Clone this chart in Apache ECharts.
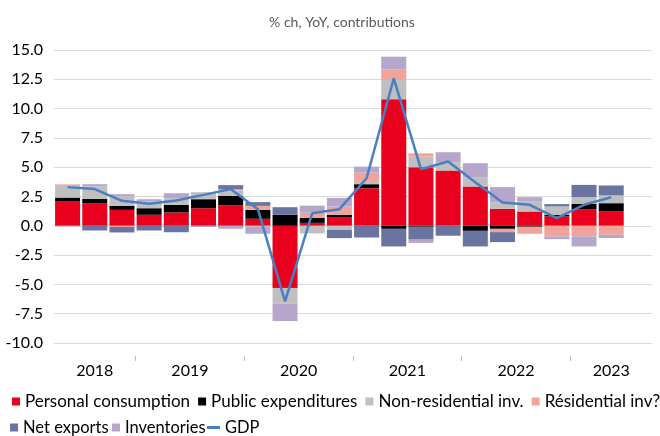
<!DOCTYPE html>
<html>
<head>
<meta charset="utf-8">
<script src="https://cdn.jsdelivr.net/npm/echarts@6/dist/echarts.min.js"></script>
<style>
  html, body { margin: 0; padding: 0; background: #fff; }
  #main { width: 660px; height: 436px; }
</style>
</head>
<body>
<div id="main"></div>
<script>
// quarters 2018Q2 .. 2023Q3 (last one empty)
var quarters = ['2018Q2', '2018Q3', '2018Q4',
  '2019Q1', '2019Q2', '2019Q3', '2019Q4',
  '2020Q1', '2020Q2', '2020Q3', '2020Q4',
  '2021Q1', '2021Q2', '2021Q3', '2021Q4',
  '2022Q1', '2022Q2', '2022Q3', '2022Q4',
  '2023Q1', '2023Q2', '2023Q3'];

var consumption = [2.07, 1.93, 1.36, 0.94, 1.14, 1.5, 1.76, 0.6, -5.3, 0.25, 0.71, 3.21, 10.8, 5.0, 4.72, 3.35, 1.45, 1.22, 0.8, 1.42, 1.25, null];
var publicExp = [0.34, 0.37, 0.34, 0.56, 0.65, 0.77, 0.8, 0.76, 0.94, 0.42, 0.23, 0.34, -0.26, -0.08, 0, -0.43, -0.26, -0.08, 0.14, 0.46, 0.68, null];
var nonResInv = [1.08, 1.05, 0.8, 0.57, 0.57, 0.6, 0.45, -0.1, -1.28, -0.65, -0.34, 0.28, 1.64, 0.9, 0.7, 0.77, 0.55, 0.85, 0.71, 0.56, 0.66, null];
var resInv = [0.05, 0, -0.1, 0, 0, 0, 0.1, 0.34, -0.05, 0.45, 0.7, 0.71, 0.91, 0.28, 0, 0, -0.28, -0.6, -0.91, -0.91, -0.77, null];
var netExports = [0, -0.4, -0.47, -0.4, -0.55, 0, 0.36, 0.32, 0.65, 0, -0.71, -1.0, -1.5, -1.1, -0.85, -1.33, -0.85, 0, 0.2, 1.05, 0.85, null];
var inventories = [-0.05, 0.2, 0.2, 0.2, 0.42, -0.1, -0.25, -0.58, -1.5, 0.6, 0.74, 0.51, 1.08, -0.28, 0.86, 1.22, 1.3, 0.37, -0.23, -0.85, -0.28, null];
var gdp = [3.3, 3.13, 2.13, 1.88, 2.16, 2.64, 3.13, 1.42, -6.45, 1.08, 1.42, 4.06, 12.58, 4.83, 5.48, 3.72, 1.99, 1.79, 0.65, 1.79, 2.44, null];

var yearLabels = ['2018', '2019', '2020', '2021', '2022', '2023'];
var yearCenters = [1.5, 5, 9, 13, 17, 20.5];
var yearBreaks = [3, 7, 11, 15, 19];

var fontName = 'Lato';

var chartDom = document.getElementById('main');
var myChart = echarts.init(chartDom);

function barSeries(name, data, color) {
  return {
    name: name,
    type: 'bar',
    stack: 'total',
    barCategoryGap: '8%',
    data: data,
    itemStyle: { color: color },
    emphasis: { disabled: true }
  };
}

function legendAt(names, left, top, w, h, size) {
  return {
    data: names,
    left: left, top: top, width: 1000, padding: 0,
    itemWidth: w, itemHeight: h, itemGap: 8,
    icon: 'rect', selectedMode: false,
    textStyle: { fontSize: size, color: '#000', fontFamily: fontName }
  };
}

var option = {
  animation: false,
  textStyle: { fontFamily: fontName },
  title: {
    text: '% ch, YoY, contributions',
    left: 337,
    top: 10,
    textAlign: 'center',
    textStyle: { fontSize: 14, fontWeight: 'normal', color: '#595959', fontFamily: fontName }
  },
  legend: [
    legendAt(['Personal consumption', 'Public expenditures', 'Non-residential inv.', 'Résidential inv?'], 12, 393, 8, 8, 17),
    legendAt(['Net exports'], 10, 419, 8, 8, 16.5),
    legendAt(['Inventories'], 112, 419, 8, 8, 16.5),
    legendAt(['GDP'], 207, 419, 13, 3, 16.5)
  ],
  grid: { left: 54, right: 8, top: 50, bottom: 93, containLabel: false, outerBoundsMode: 'none' },
  xAxis: [
    {
      type: 'category',
      data: quarters,
      axisLine: { show: false },
      axisTick: { show: false },
      axisLabel: { show: false },
      splitLine: { show: false }
    },
    {
      type: 'value',
      min: 0, max: 22,
      position: 'bottom',
      offset: 13,
      axisLine: { show: false },
      splitLine: { show: false },
      axisTick: { show: true, customValues: yearBreaks, length: 5, lineStyle: { color: '#bfbfbf' } },
      axisLabel: {
        customValues: yearCenters,
        margin: 7,
        fontSize: 16,
        color: '#000',
        formatter: function (v) {
          var i = yearCenters.indexOf(v);
          return i >= 0 ? yearLabels[i] : '';
        }
      }
    }
  ],
  yAxis: {
    type: 'value',
    min: -10, max: 15, interval: 2.5,
    axisLine: { show: false },
    axisTick: { show: false },
    splitLine: { lineStyle: { color: '#d9d9d9', width: 1 } },
    axisLabel: {
      fontSize: 16, color: '#000', margin: 11,
      formatter: function (v) { return v.toFixed(1); }
    }
  },
  series: [
    barSeries('Personal consumption', consumption, '#E8001C'),
    barSeries('Public expenditures', publicExp, '#000000'),
    barSeries('Non-residential inv.', nonResInv, '#BFBFBF'),
    barSeries('Résidential inv?', resInv, '#F1A39B'),
    barSeries('Net exports', netExports, '#6B74A0'),
    barSeries('Inventories', inventories, '#B6A6CC'),
    {
      name: 'GDP',
      type: 'line',
      data: gdp,
      symbol: 'none',
      lineStyle: { color: '#4A7FC1', width: 2.5 },
      itemStyle: { color: '#4A7FC1' },
      emphasis: { disabled: true },
      z: 5
    }
  ]
};

myChart.setOption(option);
</script>
</body>
</html>
